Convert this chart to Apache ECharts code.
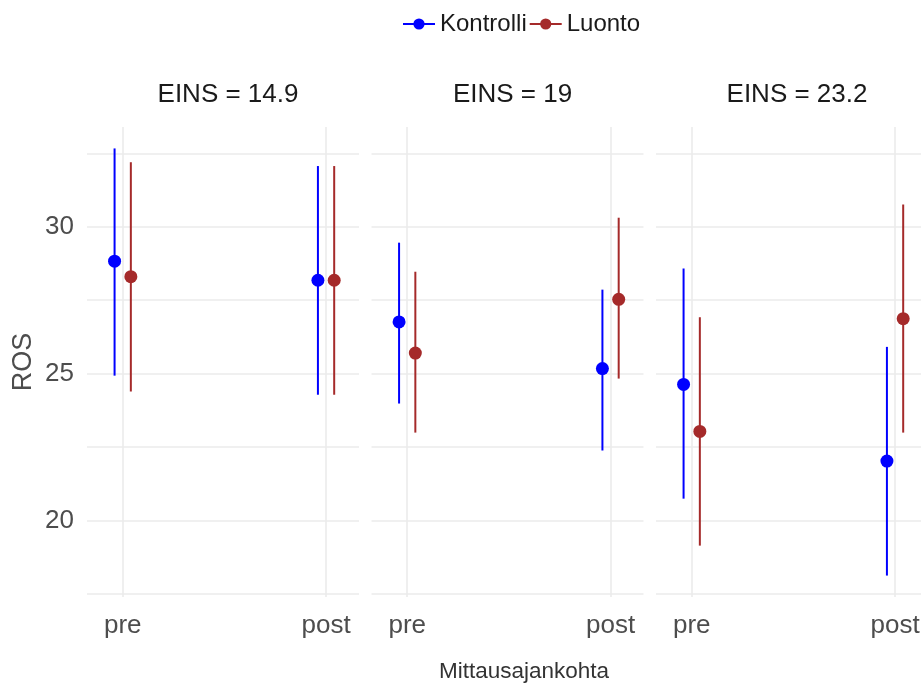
<!DOCTYPE html>
<html>
<head>
<meta charset="utf-8">
<script src="https://cdn.jsdelivr.net/npm/echarts@6/dist/echarts.min.js"></script>
<style>
  html, body { margin: 0; background: #fff; overflow: hidden; }
  /* a little wider than the window: the last panel is cut off at the right edge */
  #main { width: 936px; height: 683px; }
</style>
</head>
<body>
<div id="main"></div>
<script>
// facets, x categories, axis ticks
const panels = ['EINS = 14.9', 'EINS = 19', 'EINS = 23.2'];
const times = ['pre', 'post'];
const yTicks = [20, 25, 30];
const yGridValues = [17.5, 20, 22.5, 25, 27.5, 30, 32.5];

// values per panel: [pre, post]
const kontrolliMean = [[28.83, 28.18], [26.76, 25.17], [24.63, 22.02]];
const kontrolliLow  = [[24.93, 24.28], [23.98, 22.38], [20.74, 18.12]];
const kontrolliHigh = [[32.67, 32.07], [29.46, 27.86], [28.58, 25.91]];
const luontoMean = [[28.30, 28.18], [25.70, 27.53], [23.03, 26.87]];
const luontoLow  = [[24.39, 24.28], [22.99, 24.83], [19.14, 22.99]];
const luontoHigh = [[32.20, 32.07], [28.47, 30.31], [26.92, 30.76]];

const groups = [
  { name: 'Kontrolli', color: '#0000ff', mean: kontrolliMean, low: kontrolliLow, high: kontrolliHigh, dodge: -0.04 },
  { name: 'Luonto', color: '#a52a2a', mean: luontoMean, low: luontoLow, high: luontoHigh, dodge: 0.04 }
];

let myChart = echarts.init(document.getElementById('main'));

const font = 'Liberation Sans, Arial, sans-serif';
const gridLefts = [87, 371.5, 656];
const panelW = 272;

let grids = [], xAxes = [], yAxes = [], titles = [], series = [];

// legend-only series (line + point icon)
groups.forEach(function (g) {
  series.push({
    name: g.name, type: 'line', data: [], symbol: 'circle', symbolSize: 10,
    itemStyle: { color: g.color }, lineStyle: { color: g.color, width: 2 }
  });
});

panels.forEach(function (p, i) {
  grids.push({ left: gridLefts[i], width: panelW, top: 127, height: 470 });
  xAxes.push({
    gridIndex: i, type: 'value', min: 0.8244, max: 2.162,
    axisLine: { show: false }, axisTick: { show: false }, splitLine: { show: false },
    axisLabel: {
      customValues: [1, 2], margin: 16, fontSize: 26, color: '#4d4d4d', fontFamily: font,
      formatter: function (v) { return times[Math.round(v) - 1]; }
    }
  });
  yAxes.push({
    gridIndex: i, type: 'value', min: 17.39, max: 33.40,
    axisLine: { show: false }, axisTick: { show: false }, splitLine: { show: false },
    name: i === 0 ? 'ROS' : '', nameLocation: 'middle', nameGap: 50,
    nameTextStyle: { fontSize: 27, color: '#4d4d4d', fontFamily: font },
    axisLabel: {
      show: i === 0, customValues: yTicks, margin: 13, fontSize: 26,
      color: '#4d4d4d', fontFamily: font
    }
  });
  titles.push({
    text: p, left: gridLefts[i] + panelW / 2, top: 77, textAlign: 'center',
    textStyle: { fontSize: 26, fontWeight: 'normal', color: '#1a1a1a', fontFamily: font }
  });

  // panel gridlines
  series.push({
    type: 'line', data: [], xAxisIndex: i, yAxisIndex: i, silent: true, z: 0,
    markLine: {
      silent: true, symbol: 'none', label: { show: false }, animation: false, z: 0,
      lineStyle: { color: '#ebebeb', width: 1.6, type: 'solid' },
      data: yGridValues.map(function (v) { return { yAxis: v }; })
        .concat(times.map(function (t, k) { return { xAxis: k + 1 }; }))
    }
  });

  groups.forEach(function (g) {
    let data = times.map(function (t, k) {
      return [k + 1 + g.dodge, g.mean[i][k], g.low[i][k], g.high[i][k]];
    });
    series.push({
      name: g.name, type: 'custom', xAxisIndex: i, yAxisIndex: i, z: 5,
      itemStyle: { color: g.color },
      renderItem: function (params, api) {
        let x = api.value(0);
        let c = api.coord([x, api.value(1)]);
        let lo = api.coord([x, api.value(2)]);
        let hi = api.coord([x, api.value(3)]);
        return {
          type: 'group',
          children: [
            { type: 'line', shape: { x1: lo[0], y1: lo[1], x2: hi[0], y2: hi[1] },
              style: { stroke: g.color, lineWidth: 2 } },
            { type: 'circle', shape: { cx: c[0], cy: c[1], r: 6.5 },
              style: { fill: g.color } }
          ]
        };
      },
      data: data
    });
  });
});

titles.push({
  text: 'Mittausajankohta', left: 519, top: 655, textAlign: 'center',
  textStyle: { fontSize: 22.5, fontWeight: 'normal', color: '#333333', fontFamily: font }
});

let option = {
  animation: false,
  backgroundColor: '#ffffff',
  title: titles,
  legend: {
    data: ['Kontrolli', 'Luonto'], top: 7, left: 397,
    itemWidth: 32, itemHeight: 14, itemGap: 2,
    textStyle: { fontSize: 24, color: '#1a1a1a', fontFamily: font }
  },
  grid: grids,
  xAxis: xAxes,
  yAxis: yAxes,
  series: series
};

myChart.setOption(option);
</script>
</body>
</html>
